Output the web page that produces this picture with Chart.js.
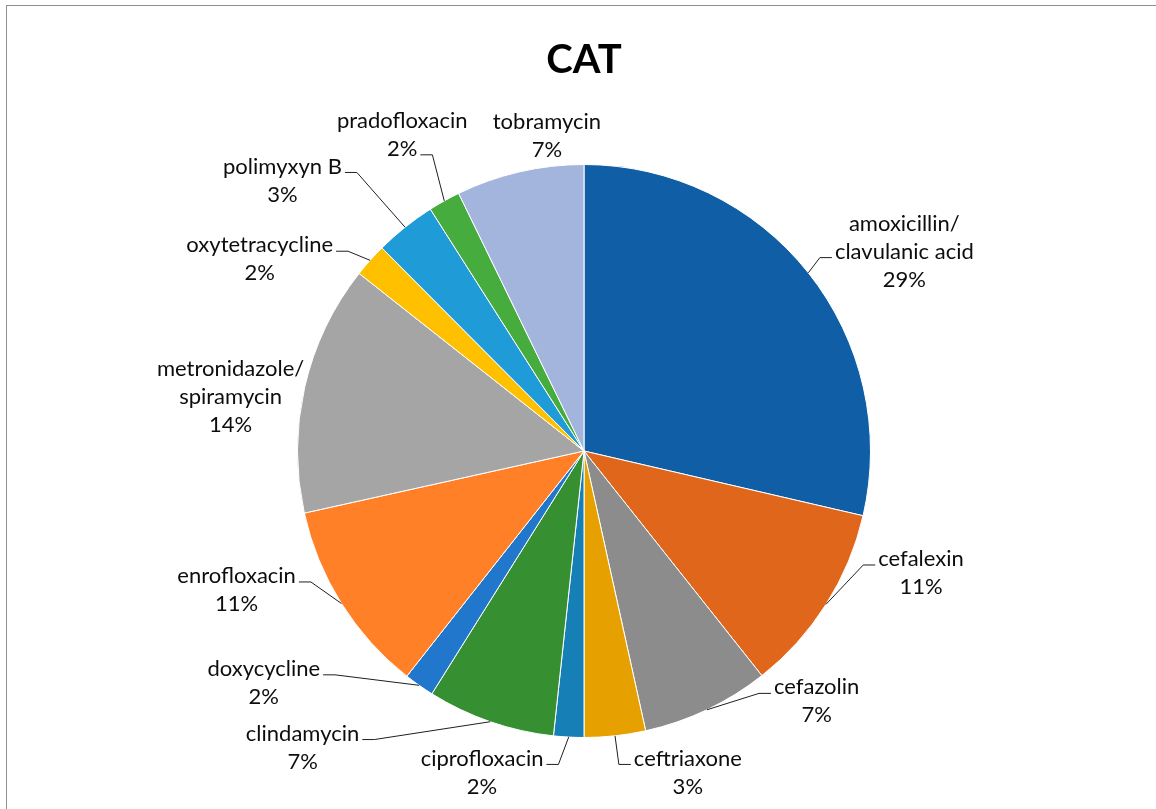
<!DOCTYPE html>
<html>
<head>
<meta charset="utf-8">
<title>CAT</title>
<script src="https://cdn.jsdelivr.net/npm/chart.js@4.4.1/dist/chart.umd.min.js"></script>
<style>
  html, body { margin: 0; padding: 0; background: #fff; overflow: hidden; }
  #wrap { position: relative; width: 1156px; height: 809px; }
  #frame { position: absolute; left: 6px; top: 5px; width: 1200px; height: 900px;
           border-top: 1px solid #8f8f8f; border-left: 1px solid #8f8f8f; pointer-events: none; }
</style>
</head>
<body>
<div id="wrap">
  <canvas id="pieChart"></canvas>
  <div id="frame"></div>
</div>
<script>
// slices, clockwise from 12 o'clock
const drugNames = [
    ['amoxicillin/', 'clavulanic acid'],
    'cefalexin',
    'cefazolin',
    'ceftriaxone',
    'ciprofloxacin',
    'clindamycin',
    'doxycycline',
    'enrofloxacin',
    ['metronidazole/', 'spiramycin'],
    'oxytetracycline',
    'polimyxyn B',
    'pradofloxacin',
    'tobramycin'
];
const shares = [28.6, 10.7, 7.2, 3.45, 1.7, 7.2, 1.7, 10.9, 14.1, 1.9, 3.45, 1.8, 7.2];
const sliceColors = [
    '#0f5ea6', '#e0661b', '#8c8c8c', '#e6a000', '#1680b6', '#368f30', '#2177cb',
    '#ff8026', '#a5a5a5', '#ffc000', '#1f9bd7', '#46ac3e', '#a3b5dd'
];
// where each data label sits: [angle in degrees clockwise from 12 o'clock, distance in pie radii]
const labelSpots = [
    [58.1, 1.317], [109.9, 1.251], [137.1, 1.193], [162.1, 1.179], [197.6, 1.177],
    [223.5, 1.427], [234.1, 1.380], [248.2, 1.306], [278.7, 1.248], [300.6, 1.315],
    [311.9, 1.414], [330.1, 1.273], [353.3, 1.109]
];

const LABEL_FONT = '22px Lato';
const LINE_H = 28;

const outsideLabels = {
    id: 'outsideLabels',
    afterDatasetsDraw(chart) {
        const ctx = chart.ctx;
        const meta = chart.getDatasetMeta(0);
        const data = chart.data.datasets[0].data;
        const total = data.reduce((a, b) => a + b, 0);
        ctx.save();
        ctx.font = LABEL_FONT;
        ctx.textAlign = 'center';
        ctx.textBaseline = 'middle';
        ctx.fillStyle = '#0d0d0d';
        ctx.strokeStyle = '#1f1f1f';
        ctx.lineWidth = 1;
        meta.data.forEach(function(arc, i) {
            const p = arc.getProps(['x', 'y', 'startAngle', 'endAngle', 'outerRadius'], true);
            const mid = (p.startAngle + p.endAngle) / 2;
            const ex = p.x + Math.cos(mid) * p.outerRadius;
            const ey = p.y + Math.sin(mid) * p.outerRadius;

            const a = (labelSpots[i][0] - 90) * Math.PI / 180;
            const cx = p.x + Math.cos(a) * labelSpots[i][1] * p.outerRadius;
            const cy = p.y + Math.sin(a) * labelSpots[i][1] * p.outerRadius;

            const lines = [].concat(chart.data.labels[i], Math.round(data[i] / total * 100) + '%');
            const n = lines.length;
            const firstY = cy - (n - 1) / 2 * LINE_H;
            const widths = lines.map(t => ctx.measureText(t).width);
            const maxW = Math.max.apply(null, widths);
            const left = cx - maxW / 2, right = cx + maxW / 2;
            const top = firstY - 12, bottom = firstY + (n - 1) * LINE_H + 12;

            lines.forEach(function(t, k) {
                ctx.fillText(t, cx, firstY + k * LINE_H);
            });

            // leader line, only when the label stands away from the pie
            const gx = Math.max(left - ex, 0, ex - right);
            const gy = Math.max(top - ey, 0, ey - bottom);
            if (Math.hypot(gx, gy) < 16) return;

            let k = Math.floor((n - 1) / 2);
            if (ex > left && ex < right && ey > bottom) k = n - 1;
            const sy = firstY + k * LINE_H + 6;
            let ax, sx;
            if (cx < ex) {
                ax = cx + widths[k] / 2 + 3;
                sx = ax + 12;
            } else {
                ax = cx - widths[k] / 2 - 3;
                sx = ax - 12;
            }
            ctx.beginPath();
            ctx.moveTo(ex, ey);
            ctx.lineTo(sx, sy);
            ctx.lineTo(ax, sy);
            ctx.stroke();
        });
        ctx.restore();
    }
};

new Chart(document.getElementById('pieChart'), {
    type: 'pie',
    data: {
        labels: drugNames,
        datasets: [{
            data: shares,
            backgroundColor: sliceColors,
            borderColor: '#ffffff',
            borderWidth: 1
        }]
    },
    options: {
        responsive: true,
        maintainAspectRatio: false,
        animation: false,
        layout: {
            padding: { top: 0, bottom: 71, left: 12, right: 0 }
        },
        plugins: {
            legend: { display: false },
            tooltip: { enabled: false },
            title: {
                display: true,
                text: 'CAT',
                color: '#000',
                font: { family: 'Lato', size: 40, weight: 'bold' },
                padding: { top: 36, bottom: 80 }
            }
        }
    },
    plugins: [outsideLabels]
});
</script>
</body>
</html>
